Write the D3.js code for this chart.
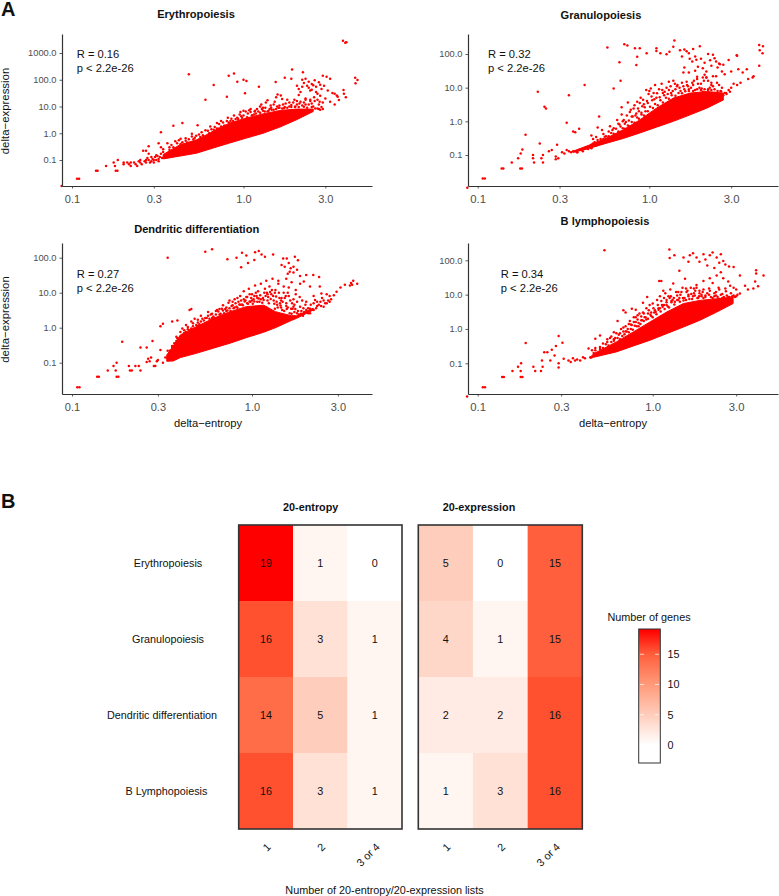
<!DOCTYPE html>
<html>
<head>
<meta charset="utf-8">
<script src="https://cdn.jsdelivr.net/npm/d3@7"></script>
<style>
  body { margin: 0; background: #fff; }
  text { font-family: "Liberation Sans", Arial, sans-serif; fill: #111; }
  .axis text { fill: #4d4d4d; }
  .axis path, .axis line { stroke: #333; }
</style>
</head>
<body>
<svg id="chart" width="779" height="896"></svg>
<script>
// Values (delta-entropy, delta-expression)
const xTicks = [0.1, 0.3, 1, 3];

// solid part of each cloud: dots overlap completely there
const eryBandX = [.34,.426,.533,.665,.83,1.04,1.3,1.63,2.04,2.55];
const eryBandLow = [.11,.14,.18,.28,.43,.66,1,1.7,3.2,6.5];
const eryBandHigh = [.16,.37,.57,1.17,2.4,3.7,5.3,7.1,8,8];
const eryPoints = [[.087,.0107],[.107,.02],[.11,.02],[.138,.04],[.141,.04],[.158,.06],[.175,.08],[.18,.04],[.184,.04],[.178,.06],[.185,.1],[.2,.08],[.21,.08],[.22,.06],[.215,.07],[.23,.08],[.24,.06],[.245,.09],[.25,.1],[.26,.22],[.27,.22],[.28,.33],[.28,.17],[.27,.1],[.285,.08],[.29,.13],[.3,.1],[.31,.15],[.32,.42],[.32,.11],[.33,1.1],[.33,.3],[.34,.25],[.39,1.9],[.44,2.4],[.54,2],[.6,18],[.48,160],[.67,63],[.8,23],[.82,140],[.88,170],[.92,85],[1,100],[1.04,90],[1.02,31],[1.23,55],[1.54,82],[1.74,120],[1.92,240],[1.9,110],[2.22,190],
[.36,.42],[.38,.36],[.4,.5],[.42,.55],[.44,.46],[.46,.65],[.48,.6],[.5,.75],[.52,.68],[.55,.9],[.58,.85],[.62,1.25],[.65,1.4],[.68,1.7],[.7,1.5],[.72,2.2],[.76,2.5],[.8,2.9],[.85,3.5],[.9,3.4],[.95,5],[1,7],[1.03,6.5],[1.08,7.2],[1.15,5],[1.2,8],[1.25,10],[1.3,7],[1.35,14],[1.38,6.5],[1.45,9],[1.5,12],[1.55,22],[1.58,28],[1.6,9],[1.65,26],[1.72,8.6],[1.8,18],[1.85,10],[1.95,14],[2,9.5],[2.05,12],[2.1,27],[2.2,11],[2.3,18],[.97,4.3],[1.1,6.2],[1.28,8],[1.42,8],[1.62,11],[1.76,13],[2.15,15],[2.4,12],[2.55,10],[2.7,8.5],[2.8,7.5],[2.9,8],
[2.05,60],[2.1,45],[2.15,35],[2.2,100],[2.25,75],[2.3,110],[2.35,60],[2.4,50],[2.45,40],[2.5,70],[2.55,62],[2.6,95],[2.65,55],[2.7,30],[2.75,80],[2.8,25],[2.85,45],[2.9,140],[2.95,60],[3.05,130],[3.1,40],[3.2,110],[3.3,32],[3.4,30],[3.5,26],[2.3,20],[2.45,18],[2.6,16],[2.75,12],[2.9,14],[3,20],[3.2,15],[3.4,12],[3.54,23],[3.6,17.6],[3.83,41],[3.85,30],[3.95,22],[3.8,2900],[3.92,2400],[3.98,2500],[4.48,120],[4.62,97],[4.5,74],[2.2,55],[2.4,85],[2.5,42],[2.65,35],[2.8,65],
[.2,.07],[.22,.08],[.235,.07],[.25,.08],[.255,.07],[.265,.09],[.27,.08],[.275,.12],[.28,.1],[.29,.09],[.295,.11],[.3,.08],[.305,.13],[.31,.1],[.315,.14],[.32,.09],[.325,.13],[.33,.17],[.335,.12],[.34,.2],[.35,.15],[.36,.13],[.37,.24],[.38,.18],[.39,.3],[.4,.2],[.41,.26],[.43,.4],[.44,.33],[.45,.28],[.47,.45],[.49,.38],[.51,.6],[.53,.5],[.56,.72],[.6,.7],[.63,1],[.66,1.1],[.69,1.25],[.72,1.5],[.74,1.8],[.78,1.9],[.82,2.5],[.87,2.9],[.93,3.4],[.98,3.8],[1.05,4],[1.12,4.7],[1.18,5.5],[1.25,5.8],[1.33,6.5],[1.4,7],[1.5,7.5],[1.55,8],[1.62,9],[1.68,8.5],[1.8,9],[1.9,9.5],[2,10],[2.1,9.5],[2.25,9.8],[2.35,9],[2.5,9.5],[2.62,8.5],[2.75,8],[2.85,9.5],[1.16,6.5],[1.3,9],[1.44,11],[1.7,12],[1.85,14],[2.05,16],[2.25,14],[2.5,13],[2.7,18],
[.37,.3],[.41,.42],[.43,.62],[.46,.52],[.5,.95],[.53,.8],[.57,1.1],[.6,1.3],[.64,1.8],[.67,1.35],[.7,2.4],[.74,2.9],[.77,1.9],[.81,3.8],[.84,2.9],[.88,4.6],[.92,3.8],[.96,6.2],[1,4.6],[1.06,5.5],[1.1,8],[1.17,7],[1.22,6.5],[1.27,12],[1.34,9],[1.38,17],[1.46,7.5],[1.52,15],[1.57,10],[1.68,19],[1.74,9.5],[1.9,11.5],[1.98,18],[2.12,13],[2.3,12],[2.45,16],[2.58,22],[2.78,15]];

const graBandX = [.36,.45,.565,.705,.88,1.1,1.38,1.73,2.16,2.7];
const graBandLow = [.12,.16,.225,.31,.45,.67,1,1.56,2.46,4.3];
const graBandHigh = [.13,.2,.32,.56,1.1,2.46,4.9,6.9,7.7,6.9];
const graPoints = [[.087,.0107],[.107,.02],[.11,.02],[.138,.04],[.141,.04],[.158,.06],[.172,.08],[.177,.04],[.181,.04],[.178,.11],[.182,.145],[.19,.4],[.21,.1],[.21,.08],[.213,.06],[.23,.22],[.235,.08],[.24,.06],[.24,.1],[.224,7.5],[.245,2.7],[.25,2.4],[.26,.13],[.27,.14],[.29,.2],[.285,.09],[.285,.075],[.295,.08],[.34,6],[.33,.9],[.36,.5],[.37,.47],[.39,.6],[.42,12],[.46,.38],[.51,1.4],[.5,.66],[.57,155],[.67,57],[.68,16],[.62,9.4],[.715,196],[.745,180],[.69,2.6],[.75,3.6],[.825,148],[.88,148],[.85,83],[.84,47],[.965,105],[1.1,148],[1.1,122],[1.16,105],[1.26,98],[1.31,117],[1.38,165],[1.4,250],
[.31,.12],[.32,.11],[.33,.14],[.34,.13],[.35,.12],[.37,.13],[.38,.12],[.39,.14],[.41,.13],[.43,.16],[.44,.15],[.46,.2],[.48,.24],[.5,.28],[.52,.3],[.54,.42],[.56,.36],[.58,.5],[.6,.45],[.62,.62],[.64,.6],[.66,.85],[.68,.7],[.7,1],[.72,.85],[.74,1.5],[.76,1.05],[.78,2.2],[.8,1.4],[.82,3],[.84,1.7],[.86,2.4],[.88,3.5],[.9,1.8],[.92,4.4],[.94,2.6],[.96,8.5],[.98,3.5],[1,8],[1.02,9.5],[1.04,4.2],[1.06,7],[1.08,12],[1.1,5],[1.14,9],[1.18,13],[1.22,6],[1.26,10],[1.3,15],[1.34,7],[1.38,16],[1.42,9],[1.46,12],[1.52,8],[1.58,11],[1.65,15],[1.7,9],[1.78,14],[1.85,8.5],[1.9,18],[1.96,10],[2.05,7.5],[2.15,20],[2.2,9],[2.3,12],[2.4,7],[2.5,6.5],[2.6,8],[2.7,6],[2.8,7],[2.9,8.5],[3,10],[3.1,13],[3.25,12],[3.4,14],[3.77,18],[4,20],[4.05,22],
[1.51,130],[1.55,85],[1.6,135],[1.65,120],[1.7,105],[1.72,72],[1.78,60],[1.8,140],[1.85,85],[1.88,68],[1.92,42],[1.6,40],[1.58,28],[1.97,170],[2,72],[2.05,38],[2.1,55],[2.15,30],[2.2,100],[2.26,65],[2.3,45],[2.35,22],[2.4,75],[2.45,60],[2.5,40],[2.58,50],[2.65,30],[2.75,25],[2.9,66],[3,30],[3.23,92],[3.25,88],[3.3,35],[3.5,28],[3.7,35],[4.37,185],[4.6,170],[4.4,130],[4.57,105],[4.37,45],[2.05,20],[2.15,20],[1.9,21],[2.3,14],[2.45,22],[1.7,28],[1.85,32],[2.7,48],[2.35,95],[2.55,52],[2.1,24],
[.36,.13],[.38,.12],[.4,.14],[.42,.15],[.44,.17],[.46,.16],[.47,.22],[.49,.19],[.5,.24],[.52,.22],[.54,.3],[.56,.27],[.58,.36],[.6,.32],[.62,.43],[.64,.38],[.66,.5],[.68,.48],[.7,.62],[.72,.6],[.75,.75],[.77,.7],[.79,.95],[.82,.9],[.85,1.3],[.87,1.2],[.9,1.6],[.93,1.5],[.95,2],[.98,2],[1.01,2.7],[1.05,2.5],[1.08,3.3],[1.12,3],[1.16,4.2],[1.2,3.6],[1.25,5],[1.3,4.7],[1.35,6],[1.42,5.8],[1.48,7],[1.55,6.8],[1.62,7.8],[1.7,8],[1.8,8],[1.9,9],[2,8.5],[2.1,9],[2.2,8.5],[2.3,8.5],[2.4,9],[2.5,8],[2.62,7.8],[2.75,7],[2.82,6.5],[2.95,7.5],[1.2,7],[1.3,8.5],[1.45,11],[1.55,14],[1.68,11],[1.8,12],[2,13],[2.2,16],[2.35,11],[2.55,12],
[.47,.3],[.49,.34],[.53,.55],[.55,.35],[.59,.72],[.61,.55],[.65,1.1],[.67,.8],[.69,1.6],[.71,1.1],[.73,.95],[.77,1.9],[.79,1.4],[.81,2.4],[.83,1.5],[.85,3.8],[.87,2],[.89,5],[.91,2.8],[.93,3.2],[.97,4],[.99,6.5],[1.03,5.5],[1.07,4.5],[1.11,6.8],[1.15,5.2],[1.19,8.5],[1.23,7.5],[1.28,6.5],[1.33,11],[1.37,8],[1.41,13],[1.5,10],[1.6,9],[1.66,12],[1.75,10],[1.82,16],[1.92,13],[2.02,9.5],[2.08,16],[2.25,10],[2.48,14],[2.65,10]];

const denBandX = [.336,.365,.4,.49,.61,.755,.93,1.16,1.35,1.65,1.77,2.19];
const denBandLow = [.11,.112,.14,.185,.26,.36,.52,.74,1,1.6,1.85,3.2];
const denBandHigh = [.166,.3,.62,1.07,1.85,2.87,4,4.4,2.87,2.2,2.2,3.6];
const denPoints = [[.107,.02],[.11,.02],[.138,.04],[.141,.04],[.158,.06],[.17,.08],[.177,.1],[.177,.04],[.181,.04],[.175,.06],[.19,.4],[.207,.08],[.21,.06],[.215,.06],[.225,.08],[.235,.08],[.24,.06],[.24,.27],[.26,.105],[.265,.13],[.28,.42],[.26,.27],[.285,.08],[.29,.08],[.296,.11],[.31,.23],[.32,.1],[.3,.12],[.27,.11],[.275,.14],[.32,1.3],[.34,100],[.31,1.1],[.36,1.5],[.385,1.6],[.45,3.2],[.46,3.4],[.55,147],[.6,175],[.73,91],[.82,100],[.88,138],[.87,53],[.95,70],[.93,115],[1.03,86],[1.04,142],[1.09,155],[1.13,124],[1.18,107],[1.31,124],
[.34,.22],[.35,.16],[.36,.3],[.37,.14],[.38,.42],[.39,.25],[.4,.55],[.41,.35],[.42,.7],[.43,.3],[.44,.9],[.45,.5],[.47,1.1],[.48,.7],[.5,1.4],[.52,1],[.53,1.8],[.55,1.3],[.57,2.2],[.58,1.4],[.6,2.5],[.62,1.9],[.64,3.2],[.66,2.4],[.68,3.5],[.7,2.6],[.72,3.8],[.74,5.2],[.76,3],[.78,4.4],[.8,6.5],[.82,4],[.84,5.5],[.86,8],[.88,4.6],[.9,11],[.92,6],[.94,7.5],[.96,13],[.98,5.5],[1,9],[1.02,6.5],[1.04,16],[1.06,8],[1.08,11],[1.1,5.5],[1.12,18],[1.15,7],[1.18,13],[1.2,22],[1.22,6],[1.25,15],[1.28,9],[1.3,25],[1.32,6],[1.35,12],[1.38,4.5],[1.4,18],[1.42,7],[1.45,3.8],[1.5,10],[1.55,5],[1.6,14],[1.65,3.5],[1.7,6.5],[1.75,9],[1.8,3],[1.85,4],[1.9,6],[1.95,2.8],[2,3.2],[2.05,2.6],[2.1,3.5],[2.2,3.2],[2.3,4.2],[2.4,5.5],[2.45,7],[2.55,5],[2.65,6],[2.75,6.5],[2.85,8.5],[2.95,10.6],[1.1,3.5],[1.22,9],[1.34,10],[1.46,7],[1.6,8],[1.72,4.5],
[1.49,95],[1.56,95],[1.73,107],[1.8,85],[1.46,62],[1.52,55],[1.6,70],[1.62,40],[1.7,38],[1.55,25],[1.66,20],[1.4,22],[1.75,12],[1.85,30],[1.7,55],[1.78,45],[1.58,35],[1.64,50],[1.5,15],[1.85,18],[2.36,28],[2.19,32],[2,32],[1.94,21],[2.1,15],[2.38,15],[2.43,9.5],[2.24,6.2],[3.65,22],[3.84,18],[3.55,19],[3.28,17],[3.5,16],[3.1,14],[3.6,17],[2.7,8],[2.6,9],
[.33,.14],[.345,.13],[.35,.22],[.36,.28],[.365,.2],[.37,.36],[.38,.28],[.385,.5],[.39,.36],[.4,.75],[.41,.6],[.42,.85],[.43,.75],[.44,1.05],[.45,.85],[.46,.95],[.47,1.35],[.49,1.2],[.5,1.7],[.51,1.25],[.52,1.5],[.54,1.6],[.56,1.9],[.58,1.8],[.59,2.4],[.61,2.1],[.63,2.4],[.65,2.9],[.67,2.5],[.69,3.1],[.71,3.4],[.73,3.1],[.75,3.6],[.77,4.2],[.79,3.6],[.81,5],[.83,3.7],[.85,4.6],[.87,6],[.89,4.4],[.91,5.6],[.93,7.5],[.95,4.8],[.97,5.6],[.99,7],[1.01,4.8],[1.03,5.6],[1.05,10],[1.07,5.5],[1.09,6.8],[1.11,8.5],[1.14,5.2],[1.16,6.2],[1.19,8],[1.21,10],[1.24,5],[1.27,6.6],[1.29,12],[1.33,4.8],[1.36,7.8],[1.39,3.8],[1.43,5],[1.47,3.2],[1.52,7],[1.56,3.4],[1.58,10],[1.62,2.6],[1.67,5],[1.72,2.8],[1.78,5.5],[1.82,2.4],[1.88,3],[1.92,2.2],[1.98,4.5],[2.05,3.6],[2.12,4.5],[2.2,5],[2.27,3.6],[2.35,4.5],[2.42,4.2],[2.5,6],[2.6,5],[2.7,5.5],[1.2,3.8],[1.45,6],[1.68,3.5],[1.55,4.2],
[.37,.2],[.38,.55],[.4,.4],[.41,.95],[.43,1.2],[.45,.7],[.46,1.5],[.48,1.8],[.5,1.1],[.52,2.2],[.55,1.9],[.57,2.8],[.6,1.9],[.63,3],[.66,3.4],[.69,4.4],[.72,3],[.75,6],[.78,5.5],[.8,3.8],[.83,7],[.86,4.5],[.9,6.5],[.94,5],[.97,9],[1,6],[1.03,8],[1.07,7],[1.12,6.5],[1.17,10],[1.23,7.5],[1.26,10.5],[1.31,8],[1.34,3.5],[1.37,5.5],[1.41,10],[1.44,4.3],[1.48,5.5],[1.51,3],[1.54,8],[1.58,3.8],[1.63,6],[1.66,2.5],[1.7,4],[1.74,3.4],[1.78,2.6],[1.84,7.5],[1.87,2.5],[1.93,3.6],[2,5.5],[2.1,2.6],[2.3,5.5],[2.5,4],[2.2,8]];

const bBandX = [.44,.46,.62,.775,.965,1.2,1.5,1.86,2.32,2.88];
const bBandLow = [.137,.15,.215,.32,.47,.73,1.14,1.79,3.1,5.5];
const bBandHigh = [.15,.19,.42,.82,1.6,3.1,5.5,6.8,7.6,8.5];
const bPoints = [[.087,.0107],[.107,.02],[.11,.02],[.138,.04],[.141,.04],[.158,.06],[.17,.08],[.176,.04],[.18,.04],[.177,.1],[.176,.06],[.188,.39],[.208,.08],[.213,.06],[.23,.06],[.235,.08],[.233,.12],[.24,.21],[.25,.21],[.265,.25],[.28,.32],[.29,.62],[.305,.4],[.275,.17],[.29,.1],[.29,.075],[.26,.12],[.31,.135],[.33,.12],[.34,.11],[.35,.14],[.36,.12],[.37,.13],[.385,.12],[.4,.15],[.41,.14],[.47,.52],[.5,.65],[.53,195],[.6,.8],[.68,3.5],[.7,3],[.63,1.7],[.76,3.9],[.8,3.6],[.82,2.5],[.93,8.5],[.88,5.8],[1.09,25],[1.12,25],[1.245,208],[1.25,117],[1.33,140],[1.31,21],[1.5,120],[1.42,50],[1.53,29],[1.15,13],
[.43,.27],[.45,.24],[.47,.28],[.5,.3],[.52,.38],[.55,.42],[.57,.55],[.6,.5],[.62,.75],[.64,.68],[.66,1],[.68,.85],[.7,1.2],[.72,1],[.74,1.7],[.76,1.3],[.78,2.2],[.8,1.6],[.82,1.9],[.84,2.8],[.86,1.8],[.88,3],[.9,2.2],[.92,4],[.94,2.8],[.96,5],[.98,2.4],[1,5.5],[1.03,3.5],[1.06,7],[1.08,4],[1.1,9],[1.13,5],[1.16,8],[1.18,11],[1.2,6],[1.23,9],[1.26,14],[1.28,6.5],[1.32,8],[1.36,12],[1.4,7],[1.44,10],[1.48,16],[1.52,8],[1.56,12],[1.6,10],[1.65,16],[1.7,9],[1.75,13],[1.8,8],[1.85,11],[1.9,9],[2,8.5],[2.1,10],[2.2,8],[2.3,9.5],[2.4,7.5],[2.5,8],[2.6,7],[2.7,8.5],[2.8,7.5],[2.9,9.5],[3,9],
[1.63,140],[1.7,160],[1.78,120],[1.85,90],[1.6,90],[1.95,150],[2,105],[2.05,70],[2.12,140],[2.2,170],[2.32,120],[2.4,85],[2.25,60],[2.45,150],[2.53,95],[2.6,75],[2.45,45],[2.32,36],[2.12,30],[1.95,25],[1.78,19],[2.2,22],[2.53,30],[2.7,24],[2.77,18],[2.6,15],[2.4,14],[2.1,15],[1.85,13],[2.9,64],[2.73,66],[3.15,36],[3.15,10.7],[3.05,10],[3,14],[2.9,16],[3.37,18],[3.5,14],[3.76,15],[3.85,24],[4,17.5],[3.9,51],[3.9,41],[4.3,36],
[.44,.15],[.46,.2],[.47,.24],[.48,.2],[.5,.26],[.52,.28],[.54,.36],[.56,.33],[.58,.42],[.6,.45],[.63,.55],[.65,.5],[.67,.62],[.69,.7],[.71,.85],[.73,.8],[.75,1],[.77,.95],[.79,1.25],[.81,1.2],[.83,1.5],[.85,1.4],[.87,1.8],[.89,1.7],[.91,2.2],[.94,2],[.97,2.6],[1,2.2],[1.02,3],[1.05,2.7],[1.08,3.6],[1.11,3.2],[1.14,4.4],[1.17,3.8],[1.2,5],[1.24,4.2],[1.28,6],[1.33,5.2],[1.38,7],[1.43,6.2],[1.49,8],[1.55,7],[1.6,9],[1.68,7.5],[1.74,9.5],[1.82,8],[1.9,10],[1.95,8],[2.05,11],[2.15,8.5],[2.25,9],[2.35,8.5],[2.45,10],[2.55,8.5],[2.65,9.5],[2.75,8.5],[2.85,9],[2.95,8.5],[1.25,8],[1.4,12],[1.58,13],[1.72,15],[1.95,14],[2.3,12],
[.55,.5],[.58,.6],[.61,.55],[.65,.75],[.68,1.1],[.7,.85],[.73,1.4],[.75,1.35],[.78,1.6],[.8,2.2],[.83,1.2],[.86,2.3],[.89,2.8],[.92,1.9],[.95,3.5],[.98,3],[1.01,4],[1.04,3.1],[1.07,5],[1.1,4],[1.12,6.5],[1.16,5],[1.2,7],[1.22,4.5],[1.27,9],[1.3,7],[1.34,6.2],[1.38,9.5],[1.42,8],[1.46,12],[1.5,6.8],[1.55,15],[1.62,7.5],[1.66,10.5],[1.72,11],[1.78,16],[1.84,9],[1.93,12],[2,9.5],[2.12,13],[2.25,11],[2.38,16],[2.5,10.5],[2.62,12.5],[2.8,11]];

const rowNames = ["Erythropoiesis", "Granulopoiesis", "Dendritic differentiation", "B Lymphopoiesis"];
const listCounts = ["1", "2", "3 or 4"];
const entropyGenes = [[19, 1, 0], [16, 3, 1], [14, 5, 1], [16, 3, 1]];
const expressionGenes = [[5, 0, 15], [4, 1, 15], [2, 2, 16], [1, 3, 16]];
const legendTicks = [0, 5, 10, 15];

// Mise en page des quatre nuages
const panels = [
  {title: "Erythropoiesis", titleX: 196, titleY: 14.5, r: "R = 0.16", textX: 76.7, textY: 54,
   bx: eryBandX, lo: eryBandLow, hi: eryBandHigh, pts: eryPoints,
   left: 62, right: 372, top: 34, bottom: 186, xPix: [72, 243.5], yVal: [0.1, 1000], yPix: [160, 53],
   yTicks: [0.1, 1, 10, 100, 1000], yTitle: true, xTitle: false, xFont: 11},
  {title: "Granulopoiesis", titleX: 601, titleY: 15.5, r: "R = 0.32", textX: 488, textY: 54,
   bx: graBandX, lo: graBandLow, hi: graBandHigh, pts: graPoints,
   left: 468, right: 778, top: 34, bottom: 186, xPix: [477.7, 649.3], yVal: [0.1, 100], yPix: [155, 54],
   yTicks: [0.1, 1, 10, 100], yTitle: false, xTitle: false, xFont: 11.3},
  {title: "Dendritic differentiation", titleX: 196.7, titleY: 229, r: "R = 0.27", textX: 76.7, textY: 273.7,
   bx: denBandX, lo: denBandLow, hi: denBandHigh, pts: denPoints,
   left: 62, right: 372, top: 243, bottom: 394, xPix: [72, 252], yVal: [0.1, 100], yPix: [362.7, 257.7],
   yTicks: [0.1, 1, 10, 100], yTitle: true, xTitle: true, xFont: 11},
  {title: "B lymphopoiesis", titleX: 605, titleY: 221, r: "R = 0.34", textX: 500.7, textY: 273.7,
   bx: bBandX, lo: bBandLow, hi: bBandHigh, pts: bPoints,
   left: 468, right: 778, top: 243, bottom: 394, xPix: [477.7, 652.7], yVal: [0.1, 100], yPix: [363.3, 260.3],
   yTicks: [0.1, 1, 10, 100], yTitle: false, xTitle: true, xFont: 11.3}
];

const svg = d3.select("#chart");

// lettres A et B
svg.append("text").attr("x", 1).attr("y", 16).attr("font-size", 20).attr("font-weight", "bold").text("A");
svg.append("text").attr("x", 1).attr("y", 508).attr("font-size", 20).attr("font-weight", "bold").text("B");

panels.forEach(function(p) {
  let g = svg.append("g");

  // tick positions come from the picture, the domain is stretched out to the axis ends
  let x = d3.scaleLog().domain([0.1, 1]).range(p.xPix);
  x.domain([x.invert(p.left), x.invert(p.right)]).range([p.left, p.right]);
  let y = d3.scaleLog().domain(p.yVal).range(p.yPix);
  y.domain([y.invert(p.bottom), y.invert(p.top)]).range([p.bottom, p.top]);

  let band = d3.area()
    .x(function(d, i) { return x(p.bx[i]); })
    .y0(function(d, i) { return y(p.lo[i]); })
    .y1(function(d, i) { return y(p.hi[i]); });
  g.append("path").attr("d", band(p.bx)).attr("fill", "#ff0000").attr("stroke", "#ff0000").attr("stroke-width", 1);

  g.selectAll("circle").data(p.pts).enter().append("circle")
    .attr("cx", function(d) { return x(d[0]); })
    .attr("cy", function(d) { return y(d[1]); })
    .attr("r", 1.25)
    .attr("fill", "#ff0000");

  let xAxis = g.append("g").attr("class", "axis").attr("transform", `translate(0,${p.bottom})`)
    .call(d3.axisBottom(x).tickValues(xTicks).tickFormat(d3.format(".1f")).tickSize(2.5).tickSizeOuter(0));
  xAxis.selectAll("text").attr("font-size", p.xFont).attr("dy", "1.0em");
  let yAxis = g.append("g").attr("class", "axis").attr("transform", `translate(${p.left},0)`)
    .call(d3.axisLeft(y).tickValues(p.yTicks).tickFormat(d3.format(".1f")).tickSize(2.5).tickSizeOuter(0));
  yAxis.selectAll("text").attr("font-size", 9.3);
  g.selectAll(".axis path").attr("stroke-width", 1.2);
  g.selectAll(".axis line").attr("stroke-width", 0.8);

  g.append("text").attr("x", p.titleX).attr("y", p.titleY).attr("text-anchor", "middle")
    .attr("font-size", 11.1).attr("font-weight", "bold").attr("dy", "0.35em").text(p.title);
  g.append("text").attr("x", p.textX).attr("y", p.textY).attr("dy", "0.35em").attr("font-size", 11.2).text(p.r);
  g.append("text").attr("x", p.textX).attr("y", p.textY + 14).attr("dy", "0.35em").attr("font-size", 11.2).text("p < 2.2e-26");

  if (p.yTitle) {
    g.append("text").attr("transform", `translate(5,${(p.top + p.bottom) / 2 + 1}) rotate(-90)`)
      .attr("text-anchor", "middle").attr("dy", "0.35em").attr("font-size", 11.4).text("delta\u2212expression");
  }
  if (p.xTitle) {
    g.append("text").attr("x", (p.left + p.right) / 2 - (p.left < 100 ? 9 : 10)).attr("y", 423)
      .attr("text-anchor", "middle").attr("dy", "0.35em").attr("font-size", 11.2).text("delta\u2212entropy");
  }
});

// Panneau B : cartes de chaleur
let heat = d3.scaleLinear().domain([0, 19]).range(["#ffffff", "#ff0000"]).interpolate(d3.interpolateLab);
let yRow = d3.scaleBand().domain(rowNames).range([525, 829]);

function drawHeat(values, title, left, right, titleX) {
  let g = svg.append("g");
  let xCol = d3.scaleBand().domain(listCounts).range([left, right]);
  values.forEach(function(row, i) {
    row.forEach(function(v, j) {
      g.append("rect")
        .attr("x", xCol(listCounts[j])).attr("y", yRow(rowNames[i]))
        .attr("width", xCol.bandwidth()).attr("height", yRow.bandwidth())
        .attr("fill", heat(v));
      g.append("text")
        .attr("x", xCol(listCounts[j]) + xCol.bandwidth() / 2)
        .attr("y", yRow(rowNames[i]) + yRow.bandwidth() / 2 + 0.5)
        .attr("text-anchor", "middle").attr("dy", "0.35em").attr("font-size", 10.8).text(v);
    });
  });
  g.append("rect").attr("x", left).attr("y", 525).attr("width", right - left).attr("height", 304)
    .attr("fill", "none").attr("stroke", "#333").attr("stroke-width", 1.6);
  g.append("text").attr("x", titleX).attr("y", 507.7).attr("text-anchor", "middle").attr("dy", "0.35em")
    .attr("font-size", 10.8).attr("font-weight", "bold").text(title);
  listCounts.forEach(function(c) {
    let cx = xCol(c) + xCol.bandwidth() / 2;
    g.append("text").attr("transform", `translate(${cx + 3},${845}) rotate(-45)`)
      .attr("text-anchor", "end").attr("dy", "0.35em").attr("font-size", 10.8).text(c);
  });
}
drawHeat(entropyGenes, "20-entropy", 238.7, 402, 310.7);
drawHeat(expressionGenes, "20-expression", 418.3, 582.3, 479);

let rowLabelX = [168, 168, 162, 166.5];
rowNames.forEach(function(name, i) {
  svg.append("text").attr("x", rowLabelX[i]).attr("y", yRow(name) + yRow.bandwidth() / 2 + 0.5)
    .attr("text-anchor", "middle").attr("dy", "0.35em").attr("font-size", 10.8).text(name);
});

svg.append("text").attr("x", 384.5).attr("y", 890).attr("text-anchor", "middle").attr("dy", "0.35em")
  .attr("font-size", 10.85).text("Number of 20-entropy/20-expression lists");

// Légende
let legendY = d3.scaleLinear().domain([0, 15]).range([745, 654.3]);
let defs = svg.append("defs");
let grad = defs.append("linearGradient").attr("id", "legendGrad")
  .attr("x1", 0).attr("y1", 1).attr("x2", 0).attr("y2", 0);
[0, 5, 10, 15, 19].forEach(function(v) {
  grad.append("stop")
    .attr("offset", (763 - legendY(v)) / 134)
    .attr("stop-color", heat(v));
});
svg.append("rect").attr("x", 638.7).attr("y", 629).attr("width", 21.6).attr("height", 134)
  .attr("fill", "url(#legendGrad)").attr("stroke", "#333").attr("stroke-width", 1);
legendTicks.forEach(function(t) {
  if (t > 0) {
    svg.append("line").attr("x1", 640).attr("x2", 644).attr("y1", legendY(t)).attr("y2", legendY(t)).attr("stroke", "#fff").attr("stroke-width", 0.7);
    svg.append("line").attr("x1", 655).attr("x2", 659).attr("y1", legendY(t)).attr("y2", legendY(t)).attr("stroke", "#fff").attr("stroke-width", 0.7);
  }
  svg.append("text").attr("x", 667.5).attr("y", legendY(t)).attr("dy", "0.35em").attr("font-size", 10.8).text(t);
});
svg.append("text").attr("x", 649).attr("y", 617).attr("text-anchor", "middle").attr("dy", "0.35em")
  .attr("font-size", 10.85).text("Number of genes");
</script>
</body>
</html>
